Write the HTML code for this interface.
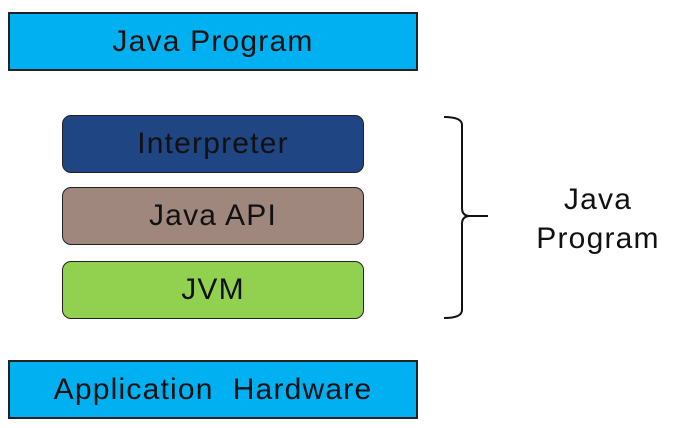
<!DOCTYPE html>
<html><head><style>
body{margin:0;width:681px;height:428px;background:#fff;position:relative;font-family:"Liberation Sans",sans-serif;overflow:hidden}
.b{position:absolute;box-sizing:border-box;border:2px solid #222;display:flex;align-items:center;justify-content:center;font-size:30px;letter-spacing:1.2px;color:#111}
.r{border-radius:9px;border-width:1.5px}
</style></head><body>
<div class="b" style="left:8px;top:12px;width:410px;height:59px;background:#00b0f0">Java Program</div>
<div class="b r" style="left:62px;top:115px;width:302px;height:58px;background:#1f4583">Interpreter</div>
<div class="b r" style="left:62px;top:187px;width:302px;height:58px;background:#a0877e">Java API</div>
<div class="b r" style="left:62px;top:261px;width:302px;height:58px;background:#92d050">JVM</div>
<div class="b" style="left:8px;top:360px;width:410px;height:59px;background:#00b0f0">Application&nbsp; Hardware</div>
<svg style="position:absolute;left:0;top:0" width="681" height="428">
<path d="M444 117 Q462 117 462 125 L462 208 Q462 216 470 216 L488 216 M470 216 Q462 216 462 224 L462 310 Q462 318 444 318" fill="none" stroke="#111" stroke-width="2"/>
</svg>
<div style="position:absolute;left:518px;top:180px;width:160px;text-align:center;font-size:30px;letter-spacing:1.2px;line-height:39px;color:#111">Java<br>Program</div>
</body></html>
